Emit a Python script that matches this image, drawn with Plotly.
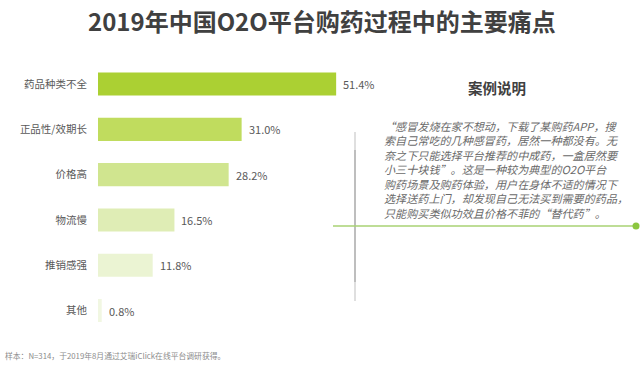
import plotly.graph_objects as go

categories = ["药品种类不全", "正品性/效期长", "价格高", "物流慢", "推销感强", "其他"]
values = [51.4, 31.0, 28.2, 16.5, 11.8, 0.8]
value_labels = ["51.4%", "31.0%", "28.2%", "16.5%", "11.8%", "0.8%"]

title_text = "2019年中国O2O平台购药过程中的主要痛点"
case_title = "案例说明"
case_lines = [
    "“感冒发烧在家不想动，下载了某购药APP，搜",
    "索自己常吃的几种感冒药，居然一种都没有。无",
    "奈之下只能选择平台推荐的中成药，一盒居然要",
    "小三十块钱”。这是一种较为典型的O2O平台",
    "购药场景及购药体验，用户在身体不适的情况下",
    "选择送药上门，却发现自己无法买到需要的药品，",
    "只能购买类似功效且价格不菲的“替代药”。",
]
footnote = "样本：N=314，于2019年8月通过艾瑞iClick在线平台调研获得。"

bar_colors = ["#abd033", "#c0dc5e", "#d0e58f", "#dfedb5", "#ebf4d3", "#f1f7e2"]

W, H = 640, 367
FONT = "Noto Sans CJK SC, Noto Sans, sans-serif"


def px(x):
    return x / W


def py(y):
    return 1 - y / H


fig = go.Figure()
fig.add_trace(go.Bar(
    y=categories, x=values, orientation="h",
    marker=dict(color=bar_colors, line=dict(width=0)),
    hoverinfo="skip",
))

annotations = []
for c, v, lab in zip(categories, values, value_labels):
    annotations.append(dict(
        x=v, y=c, xref="x", yref="y", text=lab, showarrow=False,
        xanchor="left", yanchor="middle", xshift=5,
        font=dict(family=FONT, size=11, color="#595959"),
    ))

annotations.append(dict(
    x=px(322), y=py(21), xref="paper", yref="paper", text="<b>" + title_text + "</b>",
    showarrow=False, xanchor="center", yanchor="middle",
    font=dict(family=FONT, size=24, color="#404040"),
))
annotations.append(dict(
    x=px(497), y=py(87), xref="paper", yref="paper", text="<b>" + case_title + "</b>",
    showarrow=False, xanchor="center", yanchor="middle",
    font=dict(family=FONT, size=14.5, color="#404040"),
))
annotations.append(dict(
    x=px(382), y=py(169), xref="paper", yref="paper", text="<br>".join(case_lines),
    showarrow=False, xanchor="left", yanchor="middle", align="left",
    font=dict(family=FONT, size=11.1, color="#6a6a6a", style="italic"),
))
annotations.append(dict(
    x=px(3), y=py(355), xref="paper", yref="paper", text=footnote,
    showarrow=False, xanchor="left", yanchor="middle",
    font=dict(family=FONT, size=7.8, color="#8c8c8c"),
))

shapes = [
    # vertical gray divider (lighter ends)
    dict(type="line", xref="paper", yref="paper", x0=px(355), x1=px(355), y0=py(132), y1=py(150),
         line=dict(color="#d4d4d4", width=1.5)),
    dict(type="line", xref="paper", yref="paper", x0=px(355), x1=px(355), y0=py(150), y1=py(282),
         line=dict(color="#a8a8a8", width=1.5)),
    dict(type="line", xref="paper", yref="paper", x0=px(355), x1=px(355), y0=py(282), y1=py(301),
         line=dict(color="#d4d4d4", width=1.5)),
    # green horizontal line
    dict(type="line", xref="paper", yref="paper", x0=px(333), x1=px(636), y0=py(226), y1=py(226),
         line=dict(color="#a9d273", width=1.5)),
    dict(type="circle", xref="paper", yref="paper", x0=px(632.5), x1=px(639.5), y0=py(222.5), y1=py(229.5),
         fillcolor="#8cc63f", line=dict(width=0)),
]

fig.update_layout(
    width=W, height=H,
    margin=dict(l=0, r=0, t=0, b=0),
    paper_bgcolor="white", plot_bgcolor="white",
    showlegend=False,
    bargap=0.49,
    annotations=annotations,
    shapes=shapes,
    xaxis=dict(domain=[px(98), px(376)], range=[0, 60], visible=False, fixedrange=True),
    yaxis=dict(domain=[py(333.2), py(61.4)], autorange="reversed", showgrid=False,
               zeroline=False, showline=False, ticks="", ticklabelstandoff=10,
               tickfont=dict(family=FONT, size=10.5, color="#595959"), fixedrange=True),
)

fig.write_html(
    "out.html",
    config={"displayModeBar": False},
    post_script="document.body.style.margin='0';document.body.style.overflow='hidden';",
)
